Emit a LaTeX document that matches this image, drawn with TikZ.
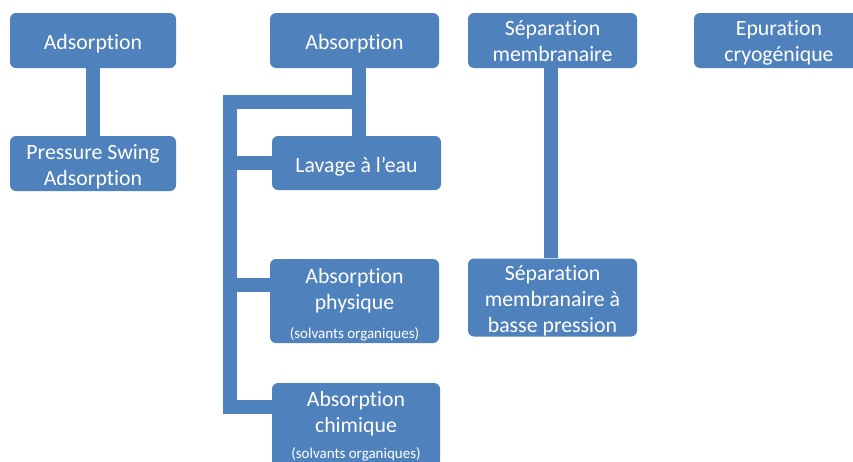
\documentclass[tikz,border=0pt]{standalone}
\usepackage{fontspec}
\setmainfont{Carlito}[Ligatures={NoCommon}]
\definecolor{boxblue}{RGB}{79,129,189}
\pgfdeclarelayer{bg}
\pgfsetlayers{bg,main}
\newcommand{\bt}[2][-4pt]{\raisebox{#1}[\height][\depth]{\begin{tabular}{@{}c@{}}#2\end{tabular}}}
\newcommand{\smalltxt}[1]{{\fontsize{15}{17}\selectfont #1}}
\begin{document}
\begin{tikzpicture}[x=1pt,y=-1pt,
  box/.style={draw=none,fill=boxblue,rounded corners=6pt,text=white,align=center,
    inner sep=0pt,font=\fontsize{21.8}{26}\selectfont},
  conn/.style={draw=boxblue,line width=14pt,line join=miter}]
\useasboundingbox (0,0) rectangle (853,461);
\clip (0,0) rectangle (853,461);
\node[box,minimum width=166pt,minimum height=55pt] (ads) at (93,40.5) {\bt{Adsorption}};
\node[box,minimum width=166pt,minimum height=55pt] (psa) at (93,163.5) {\bt{Pressure Swing\\Adsorption}};
\node[box,minimum width=169pt,minimum height=55pt] (abs) at (354.5,40.5) {\bt{Absorption}};
\node[box,minimum width=169pt,minimum height=54pt] (lav) at (356.5,163) {\bt{Lavage à l’eau}};
\node[box,minimum width=169pt,minimum height=84pt] (phy) at (354.5,301) {\bt[-5pt]{Absorption\\physique\\[3pt]\smalltxt{(solvants organiques)}}};
\node[box,minimum width=168pt,minimum height=84pt] (chim) at (356,425) {\bt[-2.5pt]{Absorption\\chimique\\[0pt]\smalltxt{(solvants organiques)}}};
\node[box,minimum width=169pt,minimum height=55pt] (sep) at (552.5,40.5) {\bt[-2.5pt]{Séparation\\membranaire}};
\node[box,minimum width=169pt,minimum height=75pt] (sepb) at (552.5,297.5) {\bt{Séparation\\membranaire à\\basse pression}};
\node[box,minimum width=170pt,minimum height=55pt] (epu) at (779,40.5) {\bt[-2.5pt]{Epuration\\cryogénique}};
\coordinate (busTop) at (230,102);
\coordinate (barEnd) at (359,102);
\coordinate (phyIn) at ([yshift=16pt]phy.west);
\coordinate (chimIn) at ([yshift=18pt]chim.west);
\begin{pgfonlayer}{bg}
\draw[conn] (ads.south) -- (psa.north);
\draw[conn] ([xshift=4.5pt]abs.south) -- ([xshift=2.5pt]lav.north);
\draw[conn] (barEnd) -- (busTop) |- (chimIn);
\draw[conn] (busTop |- lav.west) -- (lav.west);
\draw[conn] (busTop |- phyIn) -- (phyIn);
\draw[conn] ([xshift=-1.5pt]sep.south) -- ([xshift=-1.5pt]sepb.north);
\end{pgfonlayer}
\end{tikzpicture}
\end{document}
